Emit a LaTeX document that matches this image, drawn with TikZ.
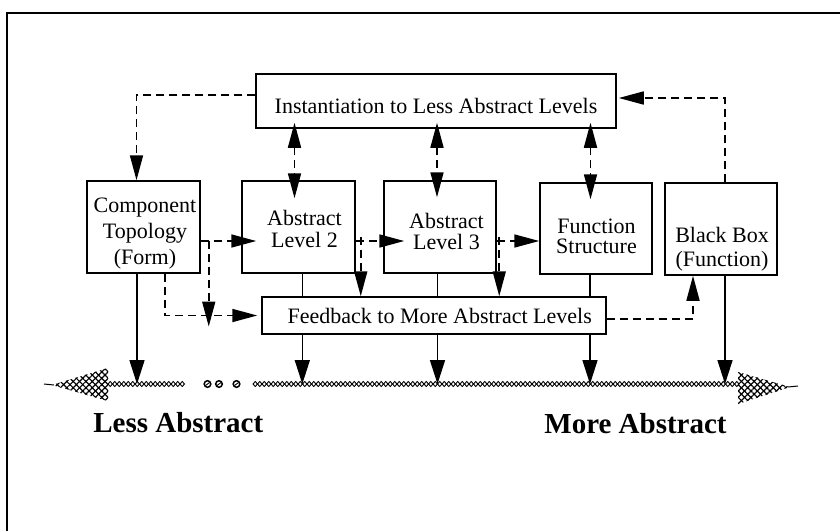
\documentclass[tikz,border=0pt]{standalone}
\usepackage{fontspec}
\setmainfont{Liberation Serif}
\usetikzlibrary{arrows.meta,patterns.meta}
\begin{document}
\begin{tikzpicture}[x=1pt,y=-1pt,
  bx/.style={draw,line width=1.5pt,inner sep=0pt},
  txt/.style={font=\fontsize{22}{26}\selectfont,align=center,inner sep=0pt},
  lbl/.style={font=\fontsize{29}{34}\selectfont\bfseries,inner sep=0pt,anchor=base},
  dsh/.style={line width=1.7pt,dash pattern=on 8pt off 5pt},
  sld/.style={line width=1.6pt},
  dtip/.tip={Triangle[length=25pt,width=13pt]},
  stip/.tip={Triangle[length=24pt,width=15pt]},
  hatchA/.style={pattern={Lines[angle=45,distance=4.5pt,line width=1.2pt]}},
  hatchB/.style={pattern={Lines[angle=-45,distance=4.5pt,line width=1.2pt]}},
  diam/.style={line width=0.9pt}
]
\useasboundingbox (0,0) rectangle (840,531);
% frame
\draw[line width=2pt] (7,531) -- (7,13) -- (840,13);

% boxes
\node[bx,minimum width=360pt,minimum height=54pt] (inst) at (436,101) {};
\node[bx,minimum width=113pt,minimum height=92pt] (ct) at (143.5,227) {};
\node[bx,minimum width=113pt,minimum height=92pt] (al2) at (298.5,227) {};
\node[bx,minimum width=112pt,minimum height=92pt] (al3) at (440,227) {};
\node[bx,minimum width=112pt,minimum height=91pt] (fs) at (596,228.5) {};
\node[bx,minimum width=112pt,minimum height=92pt] (bb) at (721,229) {};
\node[bx,minimum width=344pt,minimum height=37pt] (fb) at (434,315.5) {};

% texts
\node[txt] (instT) at (436,106.3) {Instantiation to Less Abstract Levels};
\node[txt] (ctT) at (145,233.4) {Component\\Topology\\(Form)};
\node[txt] (al2T) at (304.5,228.7) {Abstract\\[-4.3pt]Level 2};
\node[txt] (al3T) at (446.5,231.5) {Abstract\\[-5.3pt]Level 3};
\node[txt] (fsT) at (596.5,236.2) {Function\\[-6pt]Structure};
\node[txt] (bbT) at (722,249.5) {Black Box\\[-2.3pt](Function)};
\node[txt] (fbT) at (439.7,316.2) {Feedback to More Abstract Levels};

% axis anchors
\coordinate (axL) at (108,384);
\coordinate (axR) at (738,384);

% dashed connectors
\draw[dsh,-dtip] ([yshift=6pt]inst.west) -| ([xshift=-7pt]ct.north);
\draw[dsh,-dtip] ([xshift=4pt]bb.north) |- ([yshift=3pt,xshift=2pt]inst.east);
\draw[dsh,dtip-dtip] ([xshift=-4pt,yshift=6pt]al2.north |- inst.south) -- ([xshift=-4pt,yshift=-18pt]al2.north);
\draw[dsh,dtip-dtip] ([xshift=-3pt,yshift=6pt]al3.north |- inst.south) -- ([xshift=-3pt,yshift=-17pt]al3.north);
\draw[dsh,dtip-dtip] ([xshift=-5.5pt,yshift=6pt]fs.north |- inst.south) -- ([xshift=-5.5pt,yshift=-17pt]fs.north);
\draw[dsh,-dtip] ([yshift=-14pt]ct.east) -- ([yshift=-14pt,xshift=15pt]al2.west);
\draw[dsh,-dtip] ([yshift=-14pt]al2.east) -- ([yshift=-14pt,xshift=21pt]al3.west);
\draw[dsh,-dtip] ([yshift=-14pt]al3.east) -- ([yshift=-12.5pt]fs.west);
\draw[dsh,-dtip] ([xshift=21.5pt]ct.south) |- ([xshift=-4pt]fb.west);
\draw[dsh,-dtip,shorten >=3pt] ([xshift=8pt,yshift=-14pt]ct.east) -- ([xshift=8pt,yshift=-14pt]ct.east |- fb.west);
\draw[dsh,-dtip] ([xshift=5pt,yshift=-10pt]al2.east) -- ([xshift=5pt]al2.east |- fb.north);
\draw[dsh,-dtip] ([xshift=2.5pt,yshift=-10pt]al3.east) -- ([xshift=2.5pt]al3.east |- fb.north);
\draw[dsh,-dtip] ([yshift=-3.5pt]fb.east) -| ([xshift=-28pt]bb.south);

% solid connectors
\draw[sld] ([xshift=3.8pt]al2.south) -- ([xshift=3.8pt]al2.south |- fb.north);
\draw[sld] ([xshift=-2.5pt]al3.south) -- ([xshift=-2.5pt]al3.south |- fb.north);
\draw[sld] ([xshift=-6pt]fs.south) -- ([xshift=-6pt]fs.south |- fb.north);
\draw[sld,-stip] ([xshift=-131.7pt]fb.south) -- ([xshift=-131.7pt]fb.south |- axL);
\draw[sld,-stip] ([xshift=3.5pt]fb.south) -- ([xshift=3.5pt]fb.south |- axL);
\draw[sld,-stip] ([xshift=156pt]fb.south) -- ([xshift=156pt]fb.south |- axL);
\draw[sld,-stip] ([xshift=-6.5pt]ct.south) -- ([xshift=-6.5pt]ct.south |- axL);
\draw[sld,-stip] ([xshift=4pt]bb.south) -- ([xshift=4pt]bb.south |- axR);

% axis: hatched arrow heads
\fill[hatchA] (108,368) -- (108,401) -- (52,385) -- cycle;
\fill[hatchB] (108,368) -- (108,401) -- (52,385) -- cycle;
\draw[line width=1pt] (44,384) -- (54,385);
\fill[hatchA] (738,372) -- (738,404) -- (790,387) -- cycle;
\fill[hatchB] (738,372) -- (738,404) -- (790,387) -- cycle;
\draw[line width=1pt] (788,387) -- (798,386);
% axis shafts as chains of diamonds
\foreach \i in {0,...,16} {
  \draw[diam] ({108+4.5*\i},384) -- ++(2.25,-2.5) -- ++(2.25,2.5) -- ++(-2.25,2.5) -- cycle;
}
\foreach \i in {0,...,107} {
  \draw[diam] ({253+4.5*\i},384) -- ++(2.25,-2.5) -- ++(2.25,2.5) -- ++(-2.25,2.5) -- cycle;
}
% dots
\foreach \cx in {207.5,219,236.5} {
  \draw[line width=1.5pt] (\cx,384) circle (3.3pt);
  \draw[line width=0.9pt] (\cx-2,385.5) -- (\cx+2,382.5);
}

% labels
\node[lbl] (less) at (178.3,432.3) {Less Abstract};
\node[lbl] (more) at (635.5,433.3) {More Abstract};
\end{tikzpicture}
\end{document}
